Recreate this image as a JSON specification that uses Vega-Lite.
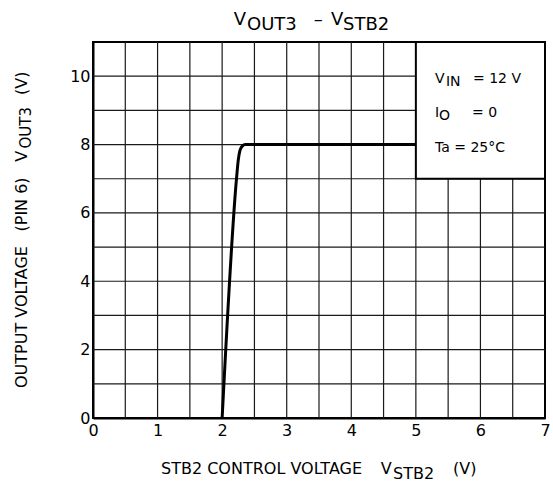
{
  "$schema": "https://vega.github.io/schema/vega-lite/v6.json",
  "width": 452,
  "height": 376,
  "autosize": {"type": "none"},
  "padding": {"left": 93, "top": 42, "right": 8, "bottom": 67},
  "background": "white",
  "config": {
    "font": "DejaVu Sans",
    "view": {"stroke": "black", "strokeWidth": 2},
    "text": {"font": "DejaVu Sans", "color": "black"}
  },
  "datasets": {
    "curve": [
      {"vstb2": 2.0, "vout3": 0},
      {"vstb2": 2.225, "vout3": 7.06},
      {"vstb2": 2.25, "vout3": 7.55},
      {"vstb2": 2.275, "vout3": 7.82},
      {"vstb2": 2.31, "vout3": 7.95},
      {"vstb2": 2.36, "vout3": 8.0},
      {"vstb2": 5.0, "vout3": 8.0}
    ],
    "vgrid": [
      {"v": 0.5}, {"v": 1}, {"v": 1.5}, {"v": 2}, {"v": 2.5}, {"v": 3}, {"v": 3.5},
      {"v": 4}, {"v": 4.5}, {"v": 5}, {"v": 5.5}, {"v": 6}, {"v": 6.5}
    ],
    "hgrid": [
      {"v": 1}, {"v": 2}, {"v": 3}, {"v": 4}, {"v": 5}, {"v": 6}, {"v": 7},
      {"v": 8}, {"v": 9}, {"v": 10}
    ],
    "box": [{"x": 5, "x2": 7, "y": 7, "y2": 11}],
    "labels": [
      {"group": "title", "part": "base", "x": 2.179, "y": 11.5, "text": "V"},
      {"group": "title", "part": "sub", "x": 2.385, "y": 11.5, "text": "OUT3"},
      {"group": "title", "part": "base", "x": 3.42, "y": 11.5, "text": "–"},
      {"group": "title", "part": "base", "x": 3.686, "y": 11.5, "text": "V"},
      {"group": "title", "part": "sub", "x": 3.872, "y": 11.5, "text": "STB2"},
      {"group": "xtitle", "part": "base", "x": 1.053, "y": -1.63, "text": "STB2 CONTROL VOLTAGE"},
      {"group": "xtitle", "part": "base", "x": 4.456, "y": -1.63, "text": "V"},
      {"group": "xtitle", "part": "sub", "x": 4.646, "y": -1.63, "text": "STB2"},
      {"group": "xtitle", "part": "base", "x": 5.575, "y": -1.63, "text": "(V)"},
      {"group": "ytitle", "part": "base", "x": -1.027, "y": 0.878, "text": "OUTPUT VOLTAGE"},
      {"group": "ytitle", "part": "base", "x": -1.027, "y": 5.456, "text": "(PIN 6)"},
      {"group": "ytitle", "part": "base", "x": -1.027, "y": 7.498, "text": "V"},
      {"group": "ytitle", "part": "sub", "x": -1.027, "y": 7.884, "text": "OUT3"},
      {"group": "ytitle", "part": "base", "x": -1.027, "y": 9.449, "text": "(V)"},
      {"group": "legend", "part": "base", "x": 5.296, "y": 9.801, "text": "V"},
      {"group": "legend", "part": "sub", "x": 5.465, "y": 9.801, "text": "IN"},
      {"group": "legend", "part": "base", "x": 5.885, "y": 9.801, "text": "= 12 V"},
      {"group": "legend", "part": "base", "x": 5.296, "y": 8.806, "text": "I"},
      {"group": "legend", "part": "sub", "x": 5.36, "y": 8.806, "text": "O"},
      {"group": "legend", "part": "base", "x": 5.869, "y": 8.806, "text": "= 0"},
      {"group": "legend", "part": "base", "x": 5.296, "y": 7.782, "text": "Ta = 25°C"}
    ]
  },
  "layer": [
    {
      "data": {"name": "vgrid"},
      "mark": {"type": "rule", "color": "#1a1a1a", "strokeWidth": 1.2},
      "encoding": {
        "x": {
          "field": "v", "type": "quantitative",
          "scale": {"domain": [0, 7], "nice": false, "zero": false},
          "axis": {
            "title": null,
            "values": [0, 1, 2, 3, 4, 5, 6, 7],
            "format": "d",
            "grid": false,
            "ticks": false, "domain": true, "domainColor": "black", "domainWidth": 2,
            "labelFont": "DejaVu Sans", "labelFontSize": 16, "labelColor": "black",
            "labelPadding": 4, "labelFlush": false, "labelOverlap": false
          }
        }
      }
    },
    {
      "data": {"name": "hgrid"},
      "mark": {"type": "rule", "color": "#1a1a1a", "strokeWidth": 1.2},
      "encoding": {
        "y": {
          "field": "v", "type": "quantitative",
          "scale": {"domain": [0, 11], "nice": false, "zero": false},
          "axis": {
            "title": null,
            "values": [0, 2, 4, 6, 8, 10],
            "format": "d",
            "grid": false,
            "ticks": false, "domain": true, "domainColor": "black", "domainWidth": 2,
            "labelFont": "DejaVu Sans", "labelFontSize": 16, "labelColor": "black",
            "labelPadding": 3, "labelFlush": false, "labelOverlap": false
          }
        }
      }
    },
    {
      "data": {"name": "curve"},
      "mark": {"type": "line", "color": "black", "strokeWidth": 3, "interpolate": "monotone"},
      "encoding": {
        "x": {"field": "vstb2", "type": "quantitative"},
        "y": {"field": "vout3", "type": "quantitative"}
      }
    },
    {
      "data": {"name": "box"},
      "mark": {"type": "rect", "fill": "white", "stroke": "black", "strokeWidth": 2},
      "encoding": {
        "x": {"field": "x", "type": "quantitative"},
        "x2": {"field": "x2"},
        "y": {"field": "y", "type": "quantitative"},
        "y2": {"field": "y2"}
      }
    },
    {
      "data": {"name": "labels"},
      "transform": [{"filter": "datum.group === 'title' && datum.part === 'base'"}],
      "mark": {"type": "text", "align": "left", "baseline": "alphabetic", "fontSize": 18},
      "encoding": {"x": {"field": "x", "type": "quantitative"}, "y": {"field": "y", "type": "quantitative"}, "text": {"field": "text"}}
    },
    {
      "data": {"name": "labels"},
      "transform": [{"filter": "datum.group === 'title' && datum.part === 'sub'"}],
      "mark": {"type": "text", "align": "left", "baseline": "alphabetic", "fontSize": 18, "dy": 5},
      "encoding": {"x": {"field": "x", "type": "quantitative"}, "y": {"field": "y", "type": "quantitative"}, "text": {"field": "text"}}
    },
    {
      "data": {"name": "labels"},
      "transform": [{"filter": "datum.group === 'xtitle' && datum.part === 'base'"}],
      "mark": {"type": "text", "align": "left", "baseline": "alphabetic", "fontSize": 16},
      "encoding": {"x": {"field": "x", "type": "quantitative"}, "y": {"field": "y", "type": "quantitative"}, "text": {"field": "text"}}
    },
    {
      "data": {"name": "labels"},
      "transform": [{"filter": "datum.group === 'xtitle' && datum.part === 'sub'"}],
      "mark": {"type": "text", "align": "left", "baseline": "alphabetic", "fontSize": 16, "dy": 5},
      "encoding": {"x": {"field": "x", "type": "quantitative"}, "y": {"field": "y", "type": "quantitative"}, "text": {"field": "text"}}
    },
    {
      "data": {"name": "labels"},
      "transform": [{"filter": "datum.group === 'ytitle' && datum.part === 'base'"}],
      "mark": {"type": "text", "align": "left", "baseline": "alphabetic", "fontSize": 16, "angle": 270},
      "encoding": {"x": {"field": "x", "type": "quantitative"}, "y": {"field": "y", "type": "quantitative"}, "text": {"field": "text"}}
    },
    {
      "data": {"name": "labels"},
      "transform": [{"filter": "datum.group === 'ytitle' && datum.part === 'sub'"}],
      "mark": {"type": "text", "align": "left", "baseline": "alphabetic", "fontSize": 15, "angle": 270, "dy": 4},
      "encoding": {"x": {"field": "x", "type": "quantitative"}, "y": {"field": "y", "type": "quantitative"}, "text": {"field": "text"}}
    },
    {
      "data": {"name": "labels"},
      "transform": [{"filter": "datum.group === 'legend' && datum.part === 'base'"}],
      "mark": {"type": "text", "align": "left", "baseline": "alphabetic", "fontSize": 14},
      "encoding": {"x": {"field": "x", "type": "quantitative"}, "y": {"field": "y", "type": "quantitative"}, "text": {"field": "text"}}
    },
    {
      "data": {"name": "labels"},
      "transform": [{"filter": "datum.group === 'legend' && datum.part === 'sub'"}],
      "mark": {"type": "text", "align": "left", "baseline": "alphabetic", "fontSize": 14, "dy": 3},
      "encoding": {"x": {"field": "x", "type": "quantitative"}, "y": {"field": "y", "type": "quantitative"}, "text": {"field": "text"}}
    }
  ]
}
